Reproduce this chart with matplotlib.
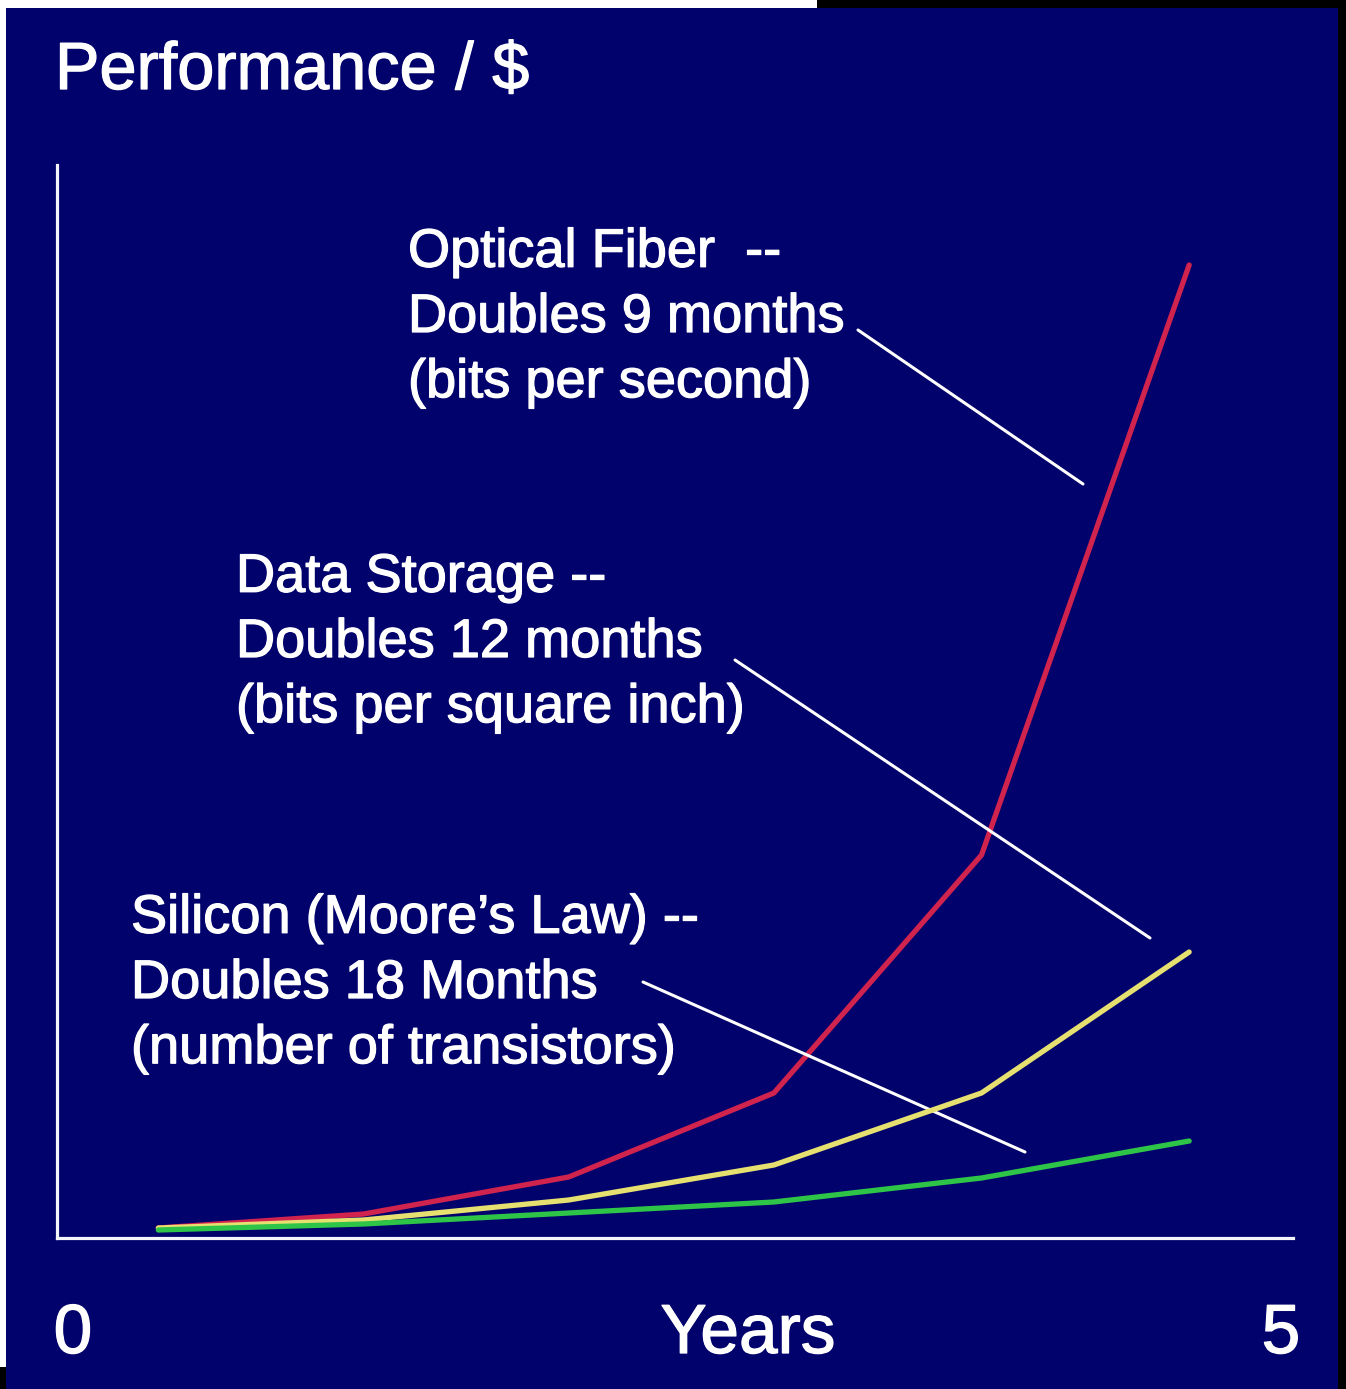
import matplotlib
matplotlib.use("Agg")
import matplotlib.pyplot as plt
import matplotlib.patheffects as pe
from matplotlib.patches import Rectangle

plt.rcParams["font.family"] = ["Liberation Sans", "DejaVu Sans"]

# data (arbitrary units)
years = [0.41, 1.24, 2.07, 2.90, 3.74, 4.58]
fiber = [10, 24, 61, 145, 383, 973]
storage = [10, 18, 38, 73, 145, 286]
silicon = [8, 14, 25, 36, 60, 97]

W, H = 1346, 1389
NAVY = "#02026c"


def fx(px):
    return px / W


def fy(py):
    return 1 - py / H


fig = plt.figure(figsize=(W / 100, H / 100), dpi=100, facecolor="white")

# slide background + scan borders
fig.add_artist(Rectangle((fx(6), 0), fx(1338) - fx(6), fy(8), transform=fig.transFigure,
                         facecolor=NAVY, edgecolor="none", zorder=0))
fig.add_artist(Rectangle((fx(817), fy(8)), 1 - fx(817), 8 / H, transform=fig.transFigure,
                         facecolor="black", edgecolor="none", zorder=0))
fig.add_artist(Rectangle((fx(1338), 0), 1 - fx(1338), 1, transform=fig.transFigure,
                         facecolor="black", edgecolor="none", zorder=0))
fig.add_artist(Rectangle((0, 0), fx(6), 22 / H, transform=fig.transFigure,
                         facecolor="black", edgecolor="none", zorder=0))

ax = fig.add_axes([fx(57), fy(1238), fx(1293) - fx(57), fy(165) - fy(1238)])
ax.set_facecolor("none")
ax.set_xlim(0, 5)
ax.set_ylim(0, 1073)
for s in ["top", "right"]:
    ax.spines[s].set_visible(False)
for s in ["left", "bottom"]:
    ax.spines[s].set_color("#f4f4ff")
    ax.spines[s].set_linewidth(2.3)
ax.set_xticks([])
ax.set_yticks([])

ax.plot(years, fiber, color="#d0234e", lw=3.8, solid_capstyle="round", zorder=3)
ax.plot(years, storage, color="#e6e070", lw=3.8, solid_capstyle="round", zorder=4)
ax.plot(years, silicon, color="#2ec448", lw=3.8, solid_capstyle="round", zorder=5)

# slightly heavier text, like the blurry slide capture
heavy = [pe.withStroke(linewidth=0.9, foreground="white")]
txt = dict(color="white", fontsize=39, va="center", ha="left", linespacing=1.39,
           path_effects=heavy)

fig.text(fx(55), fy(72), "Performance / $", color="white", fontsize=48, va="center",
         path_effects=heavy)

fig.text(fx(408), fy(318), "Optical Fiber  --\nDoubles 9 months\n(bits per second)", **txt)
fig.text(fx(236), fy(643), "Data Storage --\nDoubles 12 months\n(bits per square inch)", **txt)
fig.text(fx(131), fy(984), "Silicon (Moore\u2019s Law) --\nDoubles 18 Months\n(number of transistors)", **txt)

pointers = [((858, 330), (1083, 484)),
            ((735, 660), (1150, 938)),
            ((643, 982), (1025, 1152))]
for (x0, y0), (x1, y1) in pointers:
    ax.annotate("", xy=(fx(x1), fy(y1)), xytext=(fx(x0), fy(y0)),
                xycoords="figure fraction", textcoords="figure fraction",
                arrowprops=dict(arrowstyle="-", color="white", lw=2.2,
                                shrinkA=0, shrinkB=0))

for px, label in [(73, "0"), (748, "Years"), (1281, "5")]:
    fig.text(fx(px), fy(1335), label, color="white", fontsize=50, ha="center",
             va="center", path_effects=heavy)

fig.savefig("out.png", dpi=100, facecolor="white")
